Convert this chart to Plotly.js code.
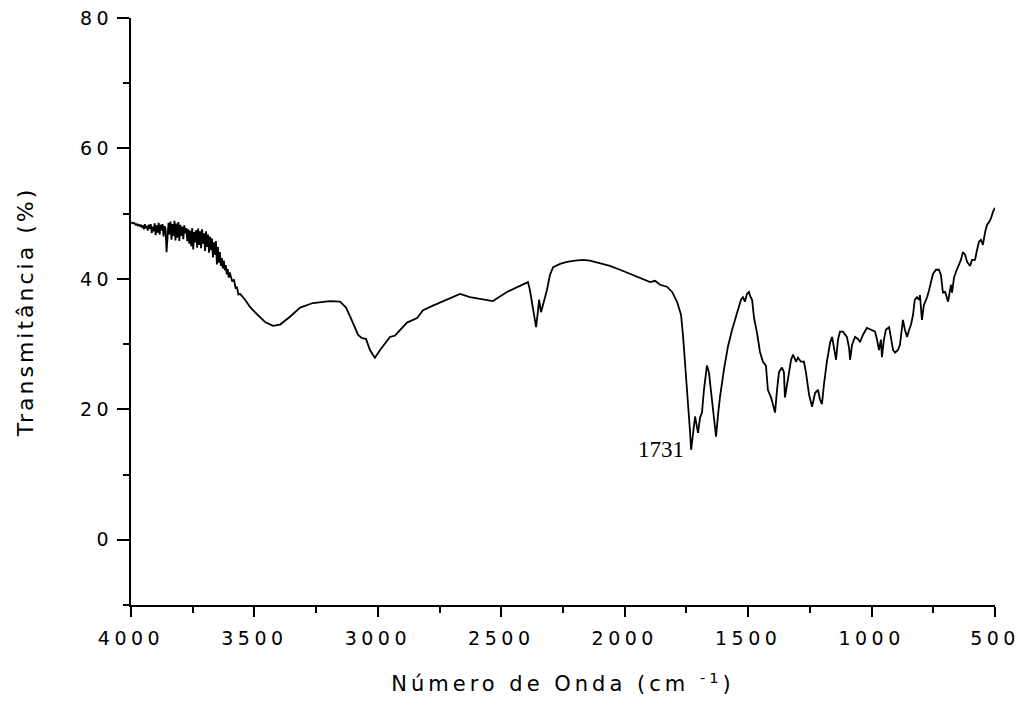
<!DOCTYPE html>
<html>
<head>
<meta charset="utf-8">
<script src="https://cdn.plot.ly/plotly-3.0.1.min.js"></script>
<style>
html,body{margin:0;padding:0;background:#fff;}
#chart{width:1021px;height:707px;}
#chart .xtick text, #chart .ytick text{letter-spacing:4.5px;}
#chart .g-xtitle text{letter-spacing:4px;}
#chart .g-ytitle text{letter-spacing:3px;}
</style>
</head>
<body>
<div id="chart"></div>
<script>
// Wavenumber (cm-1) and transmittance (%)
const wavenumber = [4000,3996,3992,3988,3984,3980,3976,3972,3968,3964,3960,3956,3952,3948,3944,3940,3936,3932,3928,3924,3920,3916,3912,3908,3904,3900,3896,3892,3888,3884,3880,3876,3872,3868,3864,3860,3856,3852,3848,3844,3840,3836,3832,3828,3824,3820,3816,3812,3808,3804,3800,3796,3792,3788,3784,3780,3776,3772,3768,3764,3760,3756,3752,3748,3744,3740,3736,3732,3728,3724,3720,3716,3712,3708,3704,3700,3696,3692,3688,3684,3680,3676,3672,3668,3664,3660,3656,3652,3648,3644,3640,3636,3632,3628,3624,3620,3616,3612,3608,3604,3600,3590,3583,3576,3571,3565,3558,3538,3518,3490,3457,3425,3396,3356,3315,3263,3194,3153,3129,3113,3093,3080,3064,3048,3032,3012,2991,2971,2951,2931,2910,2882,2841,2817,2777,2720,2667,2627,2574,2534,2477,2424,2392,2384,2376,2363,2359,2351,2347,2339,2331,2315,2303,2290,2262,2234,2201,2169,2141,2112,2060,2019,1966,1926,1897,1877,1857,1829,1808,1788,1772,1764,1756,1748,1740,1736,1731,1723,1715,1707,1703,1695,1687,1679,1671,1667,1659,1651,1643,1630,1622,1614,1598,1582,1565,1553,1545,1537,1529,1521,1513,1505,1497,1492,1484,1476,1464,1452,1440,1428,1420,1407,1399,1391,1383,1375,1363,1355,1351,1338,1326,1318,1306,1298,1286,1274,1266,1253,1241,1229,1217,1209,1201,1193,1181,1168,1160,1152,1144,1136,1128,1116,1100,1091,1087,1079,1067,1055,1047,1035,1019,1002,986,978,970,962,958,950,942,929,921,913,905,893,885,877,873,865,856,848,840,832,825,816,808,804,800,796,788,775,767,759,751,739,727,719,715,711,702,694,690,682,678,674,666,658,650,638,630,621,613,601,593,581,573,565,557,549,540,532,524,516,508,500];
const transmittance = [48.7,48.6,48.5,48.6,48.4,48.3,48.4,48.2,48.3,48.1,48.3,47.9,48.2,47.6,48.4,47.8,48.1,47.4,48.3,47.7,48.4,47.0,48.0,47.3,48.5,46.7,48.2,47.1,48.6,46.8,48.3,47.4,48.4,46.5,48.1,47.7,44.1,47.3,48.6,46.8,48.8,46.0,48.4,46.6,48.9,45.9,48.5,46.3,48.7,45.8,48.3,46.6,48.0,46.1,48.2,47.0,47.8,45.8,47.6,45.4,47.4,45.0,47.8,44.5,47.2,45.6,47.5,44.8,47.7,45.2,47.3,44.7,47.6,45.4,47.0,44.3,47.3,44.9,46.8,44.0,46.5,44.4,46.2,43.3,45.6,43.7,45.8,42.2,44.9,42.5,44.1,42.0,43.2,41.6,42.8,41.3,42.1,40.7,41.5,40.2,41.0,39.6,39.9,38.5,38.8,37.6,37.7,36.8,35.7,34.6,33.4,32.8,33.0,34.2,35.6,36.3,36.6,36.5,35.6,34.3,32.5,31.4,30.9,30.8,29.1,27.9,29.1,30.2,31.1,31.3,32.2,33.3,34.0,35.2,35.9,36.8,37.7,37.2,36.8,36.6,38.0,38.9,39.5,38.3,36.3,33.0,32.6,35.2,36.8,34.9,36.0,38.3,40.6,41.8,42.3,42.6,42.8,42.9,42.8,42.5,42.0,41.4,40.6,40.0,39.5,39.7,39.1,38.8,38.0,36.5,34.5,31.4,27.6,23.8,19.9,16.9,13.8,16.9,18.9,17.2,16.4,18.7,19.5,23.0,26.1,26.7,25.7,23.0,19.9,15.8,19.2,21.9,26.1,29.6,32.2,33.7,34.9,35.9,36.8,37.2,36.5,37.7,38.0,37.4,36.8,34.0,31.7,28.8,27.3,26.7,23.0,21.8,20.7,19.5,23.0,25.7,26.4,25.7,21.8,24.5,27.6,28.4,27.3,27.9,27.3,27.3,25.7,22.2,20.4,22.5,23.0,21.5,20.8,23.8,27.3,30.2,31.1,29.4,27.6,30.7,31.9,31.9,31.1,29.4,27.6,29.9,31.1,30.8,30.3,31.4,32.5,32.2,31.9,30.7,29.1,30.7,28.0,30.7,32.2,32.6,31.0,29.1,28.7,29.1,29.9,32.2,33.7,32.2,31.1,32.2,33.0,34.5,36.8,37.2,36.8,37.5,36.0,33.7,36.0,37.2,38.3,39.8,40.8,41.4,41.4,40.6,39.1,37.9,38.0,36.8,36.5,38.3,39.1,37.9,40.2,41.1,41.8,42.9,44.1,43.7,42.6,42.0,42.9,42.9,44.4,45.7,46.0,45.2,47.2,48.3,48.7,49.3,50.3,50.9];
const xTickVals = [4000,3500,3000,2500,2000,1500,1000,500];
const yTickVals = [0,20,40,60,80];
const peakLabel = {wn: 1731, text: '1731'};

const trace = {
  x: wavenumber, y: transmittance, type: 'scatter', mode: 'lines',
  line: {color: '#000', width: 1.8}, hoverinfo: 'skip'
};
const tickFont = {family: 'DejaVu Sans', size: 19, color: '#000'};
const layout = {
  width: 1021, height: 707,
  margin: {l: 131, r: 26, t: 18, b: 102},
  paper_bgcolor: '#fff', plot_bgcolor: '#fff',
  showlegend: false,
  xaxis: {
    range: [4000, 500], autorange: false,
    tickvals: xTickVals, ticktext: xTickVals.map(String),
    ticks: 'outside', ticklen: 10, tickwidth: 2, tickcolor: '#000',
    showline: true, linecolor: '#000', linewidth: 2,
    showgrid: false, zeroline: false,
    tickfont: tickFont, ticklabelstandoff: 5,
    minor: {dtick: 250, ticks: 'outside', ticklen: 6, tickwidth: 2, tickcolor: '#000', showgrid: false},
    title: {text: 'Número de Onda (cm <sup>-1</sup>)', font: {family: 'DejaVu Sans', size: 21, color: '#000'}, standoff: 29}
  },
  yaxis: {
    range: [-10, 80], autorange: false,
    tickvals: yTickVals, ticktext: yTickVals.map(String),
    ticks: 'outside', ticklen: 12, tickwidth: 2, tickcolor: '#000',
    showline: true, linecolor: '#000', linewidth: 2,
    showgrid: false, zeroline: false,
    tickfont: tickFont, ticklabelstandoff: 0,
    minor: {dtick: 10, ticks: 'outside', ticklen: 6, tickwidth: 2, tickcolor: '#000', showgrid: false},
    title: {text: 'Transmitância (%)', font: {family: 'DejaVu Sans', size: 22, color: '#000'}, standoff: 49}
  },
  annotations: [{
    x: peakLabel.wn, y: transmittance[wavenumber.indexOf(peakLabel.wn)], xref: 'x', yref: 'y',
    text: peakLabel.text, showarrow: false, xanchor: 'right', yanchor: 'middle', xshift: -5,
    font: {family: 'Liberation Serif', size: 23, color: '#000'}
  }]
};
Plotly.newPlot('chart', [trace], layout, {displayModeBar: false, staticPlot: true});
</script>
</body>
</html>
